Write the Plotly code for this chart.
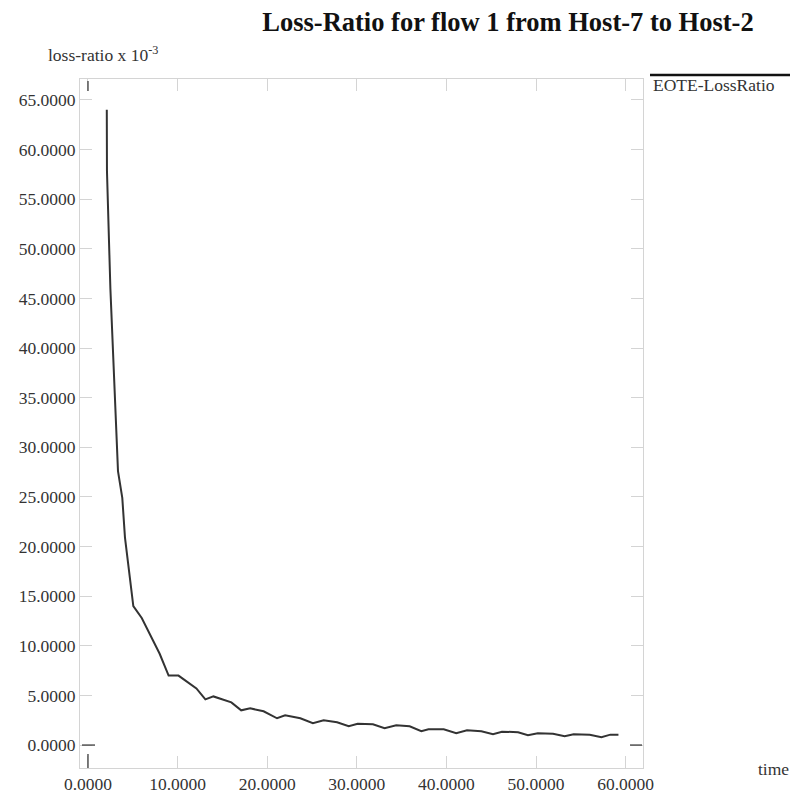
import plotly.graph_objects as go

# Data
time_s = [2.10, 2.12, 2.5, 2.9, 3.35, 3.83, 4.13, 5.06, 6.0, 8.0, 9.0, 10.1, 12.1, 13.1,
          14.0, 16.0, 17.1, 18.1, 19.6, 21.1, 22.0, 23.7, 25.1, 26.3, 27.8, 29.1, 30.1,
          31.8, 33.1, 34.4, 35.9, 37.2, 38.0, 39.7, 41.1, 42.3, 43.9, 45.2, 46.2, 48.0,
          49.1, 50.2, 51.9, 53.2, 54.2, 56.0, 57.3, 58.3, 59.2]
loss_ratio = [64.0, 57.8, 46.0, 36.5, 27.6, 24.9, 20.9, 14.0, 12.8, 9.2, 7.0, 7.0, 5.7, 4.6,
              4.9, 4.3, 3.5, 3.7, 3.4, 2.7, 3.0, 2.7, 2.2, 2.5, 2.3, 1.9, 2.15,
              2.1, 1.7, 2.0, 1.9, 1.4, 1.6, 1.6, 1.2, 1.5, 1.4, 1.1, 1.35, 1.3,
              1.0, 1.2, 1.15, 0.9, 1.1, 1.05, 0.8, 1.05, 1.05]
x_ticks = [0, 10, 20, 30, 40, 50, 60]
y_ticks = [0, 5, 10, 15, 20, 25, 30, 35, 40, 45, 50, 55, 60, 65]
series_name = "EOTE-LossRatio"
title_text = "Loss-Ratio for flow 1 from Host-7 to Host-2"

W, H = 793, 806
L, T = 80, 79
PW, PH = 563, 692
R = W - L - PW
B = H - T - PH

def px_x(p):
    return (p - L) / PW

def px_y(p):
    return (T + PH - p) / PH

serif = "Liberation Serif, Times New Roman, serif"
frame = "#d4d4d4"

fig = go.Figure()
fig.add_trace(go.Scatter(x=time_s, y=loss_ratio, mode="lines", name=series_name,
                         line=dict(color="#333333", width=2), showlegend=False))

axis_common = dict(showline=True, linecolor=frame, linewidth=1, mirror="allticks",
                   ticks="inside", tickcolor=frame, ticklen=12, tickwidth=1,
                   showgrid=False, zeroline=False, tickformat=".4f",
                   tickfont=dict(family=serif, size=17.5, color="#333333"))

fig.update_layout(
    width=W, height=H,
    margin=dict(l=L, r=R, t=T, b=B, pad=0),
    paper_bgcolor="white", plot_bgcolor="white",
    title=dict(text="<b>" + title_text + "</b>", x=508 / W, xanchor="center",
               y=1 - 22 / H, yanchor="middle",
               font=dict(family=serif, size=26.5, color="#111111")),
    xaxis=dict(range=[-0.89, 61.94], tickvals=x_ticks, **axis_common),
    yaxis=dict(range=[-2.31, 67.1], tickvals=y_ticks, **axis_common),
)

# Darker tick marks at the origin
fig.add_shape(type="line", xref="x", yref="y domain", x0=0, x1=0, y0=0, y1=14 / PH,
              line=dict(color="#555555", width=1.5))
fig.add_shape(type="line", xref="x", yref="y domain", x0=0, x1=0, y0=1 - 12 / PH, y1=1 - 2 / PH,
              line=dict(color="#555555", width=1.5))
fig.add_shape(type="line", xref="x domain", yref="y", x0=2 / PW, x1=15 / PW, y0=0, y1=0,
              line=dict(color="#555555", width=1.5))
fig.add_shape(type="line", xref="x domain", yref="y", x0=1 - 13 / PW, x1=1 - 1 / PW, y0=0, y1=0,
              line=dict(color="#555555", width=1.5))

# Legend drawn like the original (line above label)
fig.add_shape(type="line", xref="paper", yref="paper", x0=px_x(650), x1=px_x(790),
              y0=px_y(75), y1=px_y(75), line=dict(color="#111111", width=2.5))
fig.add_annotation(text=series_name, xref="paper", yref="paper", x=px_x(651), y=px_y(85),
                   xanchor="left", yanchor="middle", showarrow=False,
                   font=dict(family=serif, size=17.5, color="#333333"))

# Axis titles
fig.add_annotation(text="loss-ratio x 10<sup>-3</sup>", xref="paper", yref="paper",
                   x=px_x(46), y=px_y(54), xanchor="left", yanchor="middle", showarrow=False,
                   font=dict(family=serif, size=17.5, color="#333333"))
fig.add_annotation(text="time", xref="paper", yref="paper", x=px_x(756), y=px_y(772),
                   xanchor="left", yanchor="middle", showarrow=False,
                   font=dict(family=serif, size=17.5, color="#333333"))

fig.write_html("out.html", config={"displayModeBar": False},
               post_script="document.body.style.margin='0';document.body.style.overflow='hidden';")
